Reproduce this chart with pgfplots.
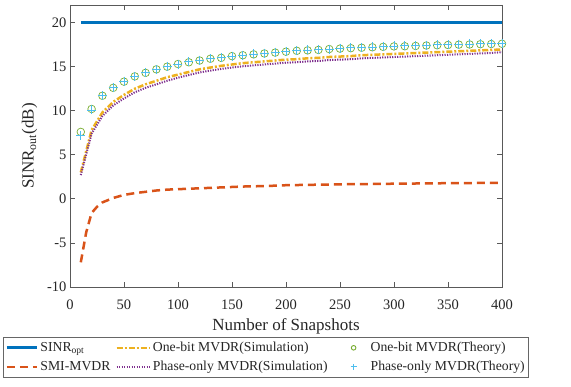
\documentclass[border=0pt]{standalone}
\usepackage{pgfplots}
\pgfplotsset{compat=1.18}
\usepackage{fontspec}
\setmainfont{Liberation Serif}
\definecolor{mblue}{rgb}{0,0.447,0.741}
\definecolor{morange}{rgb}{0.85,0.325,0.098}
\definecolor{myellow}{rgb}{0.929,0.694,0.125}
\definecolor{mpurple}{rgb}{0.494,0.184,0.556}
\definecolor{mgreen}{rgb}{0.466,0.674,0.188}
\definecolor{mcyan}{rgb}{0.301,0.745,0.933}
\pgfplotsset{
  linelegend/.style={legend image code/.code={\draw[##1] (0pt,0pt) -- (#1,0pt);}},
  marklegend/.style={legend image code/.code={\path[draw=none,fill=none] (0pt,-1pt) rectangle (30pt,1pt); \draw[##1, mark size=#1, line width=0.9pt] plot coordinates {(15pt,0pt)};}},
}
\begin{document}
\begin{tikzpicture}
\useasboundingbox (0,0) rectangle (571pt,387pt);
\begin{axis}[
  at={(70pt,100pt)}, anchor=south west,
  scale only axis, width=432pt, height=282pt,
  xmin=0, xmax=400, ymin=-10, ymax=22,
  xtick={0,50,...,400}, ytick={-10,-5,...,20},
  tick align=inside, tick pos=both,
  major tick length=5pt,
  axis line style={draw=black!65, line width=0.8pt},
  every tick/.style={draw=black!65, line width=0.8pt},
  /pgf/number format/assume math mode=true,
  tick label style={font=\fontsize{14.5}{16}\selectfont, text=black!85},
  xticklabel style={yshift=-9pt},
  label style={font=\fontsize{17}{19}\selectfont, text=black!85},
  xlabel={Number of Snapshots},
  ylabel={SINR\textsubscript{out}(dB)},
  xlabel style={yshift=-2pt},
  ylabel style={yshift=3pt},
  legend columns=3,
  legend cell align=left,
  legend style={at={(-0.155,-0.177)}, anchor=north west, draw=black!60, line width=0.8pt,
    font=\fontsize{13.7}{14.5}\selectfont, text=black!85, inner xsep=2pt, inner ysep=3pt,
    /tikz/column 2/.style={column sep=3pt},
    /tikz/column 4/.style={column sep=9pt}, row sep=4pt},
]
% SINR opt
\addplot[mblue, line width=3pt, linelegend=30pt] coordinates {(10,20) (400,20)};
\addlegendentry{SINR\textsubscript{opt}}
% One-bit simulation
\addplot[myellow, line width=2.5pt, dash pattern=on 6pt off 2pt on 2pt off 2pt, linelegend=33pt] coordinates {
(10,3.0) (20,7.8) (30,9.8) (40,11.0) (50,11.8) (60,12.5) (70,13.0) (80,13.4) (90,13.8) (100,14.1)
(110,14.4) (120,14.7) (130,14.9) (140,15.1) (150,15.25) (160,15.4) (170,15.5) (180,15.6) (190,15.7) (200,15.8)
(210,15.85) (220,15.95) (230,16.0) (240,16.1) (250,16.15) (260,16.2) (270,16.3) (280,16.35) (290,16.4) (300,16.45)
(310,16.5) (320,16.55) (330,16.6) (340,16.65) (350,16.7) (360,16.75) (370,16.8) (380,16.85) (390,16.9) (400,16.95)};
\addlegendentry{One-bit MVDR(Simulation)}
% One-bit theory
\addplot[only marks, mgreen, mark=o, mark size=3.8pt, line width=0.7pt, marklegend=2.3pt] coordinates {
(10,7.6) (20,10.2) (30,11.7) (40,12.6) (50,13.3) (60,13.9) (70,14.3) (80,14.7) (90,15.0) (100,15.3)
(110,15.5) (120,15.7) (130,15.9) (140,16.0) (150,16.2) (160,16.3) (170,16.4) (180,16.5) (190,16.6) (200,16.7)
(210,16.8) (220,16.85) (230,16.9) (240,17.0) (250,17.05) (260,17.1) (270,17.15) (280,17.2) (290,17.25) (300,17.3)
(310,17.32) (320,17.35) (330,17.4) (340,17.43) (350,17.46) (360,17.5) (370,17.52) (380,17.55) (390,17.57) (400,17.6)};
\addlegendentry{One-bit MVDR(Theory)}
% SMI-MVDR
\addplot[morange, line width=2.5pt, dash pattern=on 8pt off 5pt, linelegend=30pt] coordinates {
(10,-7.2) (15,-3.8) (20,-1.6) (25,-0.9) (30,-0.4) (40,0.1) (50,0.45) (60,0.65) (70,0.8) (80,0.95) (90,1.05) (100,1.1)
(120,1.2) (140,1.3) (160,1.4) (180,1.45) (200,1.55) (250,1.65) (300,1.72) (350,1.78) (400,1.82)};
\addlegendentry{SMI-MVDR}
% Phase-only simulation
\addplot[mpurple, line width=2pt, dash pattern=on 1.2pt off 1.3pt, linelegend=33pt] coordinates {
(10,2.7) (20,7.4) (30,9.4) (40,10.6) (50,11.4) (60,12.1) (70,12.6) (80,13.0) (90,13.4) (100,13.75)
(110,14.05) (120,14.35) (130,14.55) (140,14.75) (150,14.9) (160,15.05) (170,15.15) (180,15.25) (190,15.35) (200,15.45)
(210,15.5) (220,15.6) (230,15.65) (240,15.75) (250,15.8) (260,15.85) (270,15.95) (280,16.0) (290,16.05) (300,16.1)
(310,16.15) (320,16.2) (330,16.25) (340,16.3) (350,16.35) (360,16.4) (370,16.45) (380,16.5) (390,16.55) (400,16.65)};
\addlegendentry{Phase-only MVDR(Simulation)}
% Phase-only theory
\addplot[only marks, mcyan, mark=+, mark size=4.5pt, line width=0.7pt, marklegend=3pt] coordinates {
(10,7.2) (20,10.1) (30,11.7) (40,12.6) (50,13.35) (60,13.9) (70,14.35) (80,14.7) (90,15.05) (100,15.3)
(110,15.55) (120,15.75) (130,15.9) (140,16.05) (150,16.2) (160,16.3) (170,16.45) (180,16.55) (190,16.65) (200,16.75)
(210,16.8) (220,16.9) (230,16.95) (240,17.0) (250,17.1) (260,17.15) (270,17.2) (280,17.25) (290,17.3) (300,17.35)
(310,17.38) (320,17.4) (330,17.45) (340,17.48) (350,17.5) (360,17.55) (370,17.58) (380,17.6) (390,17.63) (400,17.65)};
\addlegendentry{Phase-only MVDR(Theory)}
\end{axis}
\end{tikzpicture}
\end{document}
